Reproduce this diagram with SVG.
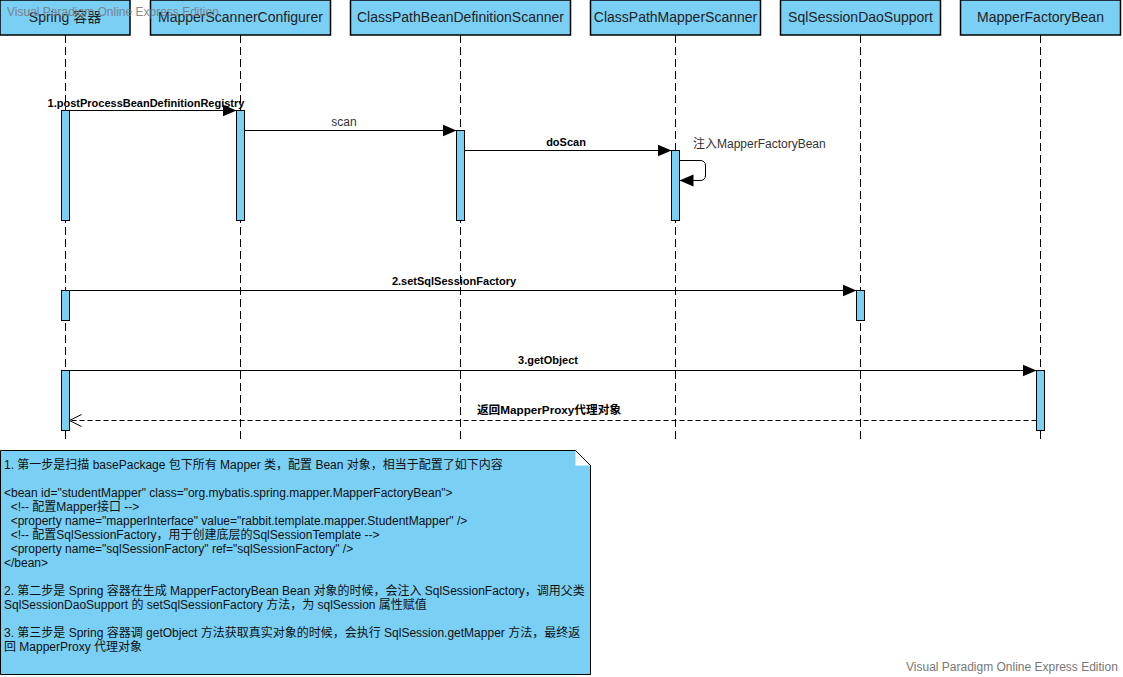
<svg xmlns="http://www.w3.org/2000/svg" width="1123" height="677" viewBox="0 0 1123 677">
<style>
text{font-family:"Liberation Sans","Noto Sans CJK SC",sans-serif;}
.hd{fill:#7ACFF5;stroke:#000;stroke-width:1.5;}
.ht{font-size:14px;fill:#222;text-anchor:middle;}
.life{stroke:#000;stroke-width:1;stroke-dasharray:8 4;fill:none;}
.act{fill:#7ACFF5;stroke:#000;stroke-width:1;}
.msg{stroke:#000;stroke-width:1;fill:none;}
.ret{stroke:#000;stroke-width:1;fill:none;stroke-dasharray:5 3;}
.lb{font-size:11px;font-weight:bold;fill:#000;text-anchor:middle;}
.ln{font-size:12px;fill:#333;text-anchor:middle;}
.nt{font-size:12px;fill:#111;}
.wm{font-size:12px;fill:#777;}
</style>
<defs>
<marker id="fa" viewBox="0 0 14 14" refX="14" refY="7" markerWidth="14" markerHeight="14" markerUnits="userSpaceOnUse" orient="auto">
<path d="M0,1 L14,7 L0,13 z" fill="#000"/>
</marker>
<marker id="oa" viewBox="0 0 14 14" refX="13" refY="7" markerWidth="14" markerHeight="14" markerUnits="userSpaceOnUse" orient="auto">
<path d="M1,1 L13,7 L1,13" fill="none" stroke="#000" stroke-width="1"/>
</marker>
</defs>
<rect width="1123" height="677" fill="#fff"/>

<g id="lifelines">
<line class="life" x1="65.5" y1="35" x2="65.5" y2="441"/>
<line class="life" x1="240.5" y1="35" x2="240.5" y2="441"/>
<line class="life" x1="460.5" y1="35" x2="460.5" y2="441"/>
<line class="life" x1="675.5" y1="35" x2="675.5" y2="441"/>
<line class="life" x1="860.5" y1="35" x2="860.5" y2="441"/>
<line class="life" x1="1040.5" y1="35" x2="1040.5" y2="441"/>
</g>

<g id="spring">
<rect class="hd" x="0" y="0" width="130" height="35"/>
<text class="ht" x="65" y="22">Spring 容器</text>
<rect class="act" x="61.5" y="110.5" width="8" height="110"/>
<rect class="act" x="61.5" y="290.5" width="8" height="30"/>
<rect class="act" x="61.5" y="370.5" width="8" height="60"/>
</g>
<g id="mapperScannerConfigurer">
<rect class="hd" x="150.5" y="0" width="180" height="35"/>
<text class="ht" x="240.5" y="22">MapperScannerConfigurer</text>
<rect class="act" x="236.5" y="110.5" width="8" height="110"/>
</g>
<g id="classPathBeanDefinitionScanner">
<rect class="hd" x="350.5" y="0" width="220" height="35"/>
<text class="ht" x="460.5" y="22">ClassPathBeanDefinitionScanner</text>
<rect class="act" x="456.5" y="130.5" width="8" height="90"/>
</g>
<g id="classPathMapperScanner">
<rect class="hd" x="590.5" y="0" width="170" height="35"/>
<text class="ht" x="675.5" y="22">ClassPathMapperScanner</text>
<rect class="act" x="671.5" y="150.5" width="8" height="70"/>
</g>
<g id="sqlSessionDaoSupport">
<rect class="hd" x="780.5" y="0" width="160" height="35"/>
<text class="ht" x="860.5" y="22">SqlSessionDaoSupport</text>
<rect class="act" x="856.5" y="290.5" width="8" height="30"/>
</g>
<g id="mapperFactoryBean">
<rect class="hd" x="960.5" y="0" width="160" height="35"/>
<text class="ht" x="1040.5" y="22">MapperFactoryBean</text>
<rect class="act" x="1036.5" y="370.5" width="8" height="60"/>
</g>

<g id="connectors">
<line class="msg" x1="69.5" y1="110.5" x2="236.5" y2="110.5" marker-end="url(#fa)"/>
<text class="lb" x="146" y="107">1.postProcessBeanDefinitionRegistry</text>
<line class="msg" x1="244.5" y1="130.5" x2="456.5" y2="130.5" marker-end="url(#fa)"/>
<text class="ln" x="344" y="126">scan</text>
<line class="msg" x1="464.5" y1="150.5" x2="671.5" y2="150.5" marker-end="url(#fa)"/>
<text class="lb" x="566" y="146">doScan</text>
<path class="msg" d="M679.5,160.5 H700 Q705.5,160.5 705.5,166 V175 Q705.5,180.5 700,180.5 H679.5" marker-end="url(#fa)"/>
<text class="ln" x="693" y="148" style="text-anchor:start">注入MapperFactoryBean</text>
<line class="msg" x1="69.5" y1="290.5" x2="856.5" y2="290.5" marker-end="url(#fa)"/>
<text class="lb" x="454" y="285">2.setSqlSessionFactory</text>
<line class="msg" x1="69.5" y1="370.5" x2="1036.5" y2="370.5" marker-end="url(#fa)"/>
<text class="lb" x="548" y="364">3.getObject</text>
<line class="ret" x1="1036.5" y1="420.5" x2="69.5" y2="420.5" marker-end="url(#oa)"/>
<text class="lb" x="549" y="414" style="font-size:11.7px">返回MapperProxy代理对象</text>
</g>

<g id="note">
<polygon points="0.5,450.5 575.5,450.5 590.5,465.5 590.5,674.5 0.5,674.5" fill="#7ACFF5" stroke="#000" stroke-width="1"/>
<polygon points="575.5,450.5 590.5,465.5 575.5,465.5" fill="#fff"/>
<line x1="575.5" y1="450.5" x2="590.5" y2="465.5" stroke="#000" stroke-width="1"/>
<text class="nt" x="4" y="469">1. 第一步是扫描 basePackage 包下所有 Mapper 类，配置 Bean 对象，相当于配置了如下内容</text>
<text class="nt" x="4" y="497">&lt;bean id="studentMapper" class="org.mybatis.spring.mapper.MapperFactoryBean"&gt;</text>
<text class="nt" x="4" y="511" xml:space="preserve">  &lt;!-- 配置Mapper接口 --&gt;</text>
<text class="nt" x="4" y="525" xml:space="preserve">  &lt;property name="mapperInterface" value="rabbit.template.mapper.StudentMapper" /&gt;</text>
<text class="nt" x="4" y="539" xml:space="preserve">  &lt;!-- 配置SqlSessionFactory，用于创建底层的SqlSessionTemplate --&gt;</text>
<text class="nt" x="4" y="553" xml:space="preserve">  &lt;property name="sqlSessionFactory" ref="sqlSessionFactory" /&gt;</text>
<text class="nt" x="4" y="567">&lt;/bean&gt;</text>
<text class="nt" x="4" y="595">2. 第二步是 Spring 容器在生成 MapperFactoryBean Bean 对象的时候，会注入 SqlSessionFactory，调用父类</text>
<text class="nt" x="4" y="609">SqlSessionDaoSupport 的 setSqlSessionFactory 方法，为 sqlSession 属性赋值</text>
<text class="nt" x="4" y="637">3. 第三步是 Spring 容器调 getObject 方法获取真实对象的时候，会执行 SqlSession.getMapper 方法，最终返</text>
<text class="nt" x="4" y="651">回 MapperProxy 代理对象</text>
</g>

<g id="watermarks">
<text class="wm" x="7" y="16" opacity="0.85">Visual Paradigm Online Express Edition</text>
<text class="wm" x="906" y="671">Visual Paradigm Online Express Edition</text>
</g>
</svg>
